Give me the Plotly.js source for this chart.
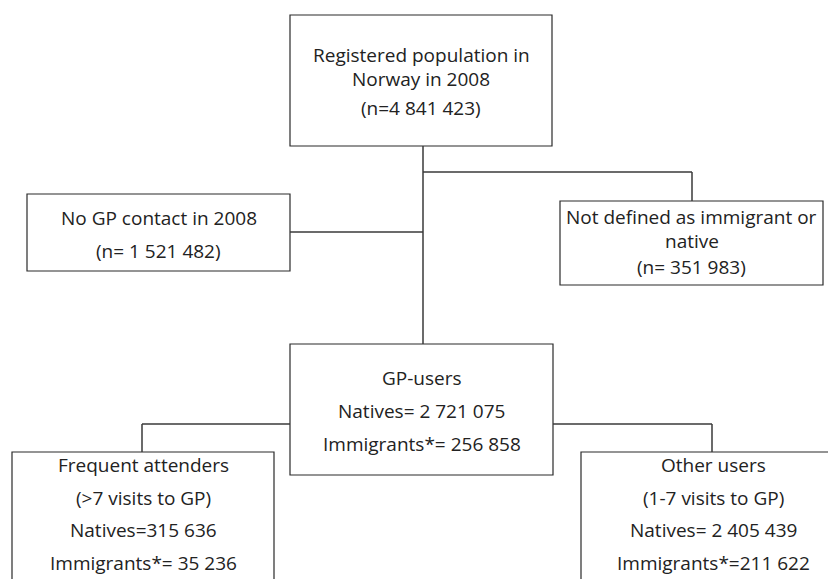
<!DOCTYPE html>
<html>
<head>
<meta charset="utf-8">
<script src="https://cdn.plot.ly/plotly-3.0.1.min.js"></script>
<style>html,body{margin:0;padding:0;background:#fff;}#chart{width:828px;height:579px;}</style>
</head>
<body>
<div id="chart"></div>
<script>
// ---- Data (flowchart nodes and their texts) ----
const nodeIds = ["population", "noContact", "notDefined", "gpUsers", "frequent", "other"];
const nodeLines = [
  ["Registered population in", "Norway in 2008", "(n=4 841 423)"],
  ["No GP contact in 2008", "(n= 1 521 482)"],
  ["Not defined as immigrant or", "native", "(n= 351 983)"],
  ["GP-users", "Natives= 2 721 075", "Immigrants*= 256 858"],
  ["Frequent attenders", "(>7 visits to GP)", "Natives=315 636", "Immigrants*= 35 236"],
  ["Other users", "(1-7 visits to GP)", "Natives= 2 405 439", "Immigrants*=211 622"]
];

// ---- Layout geometry (pixel coordinates of the page) ----
const boxes = {
  population: {x0: 290, x1: 552, y0: 15,  y1: 146, lineY: [55, 79, 108]},
  noContact:  {x0: 27,  x1: 290, y0: 194, y1: 271, lineY: [218, 251]},
  notDefined: {x0: 560, x1: 823, y0: 201, y1: 285, lineY: [217, 241, 267]},
  gpUsers:    {x0: 290, x1: 553, y0: 344, y1: 475, lineY: [378, 411, 444]},
  frequent:   {x0: 12,  x1: 274, y0: 452, y1: 600, lineY: [465, 498, 530, 563]},
  other:      {x0: 581, x1: 845, y0: 452, y1: 600, lineY: [465, 498, 530, 563]}
};
const connectors = [
  [[423, 146], [423, 344]],
  [[290, 232], [423, 232]],
  [[423, 172], [692, 172], [692, 201]],
  [[290, 424], [142, 424], [142, 452]],
  [[553, 424], [712, 424], [712, 452]]
];

const shapes = [];
const annotations = [];
const fontFamily = "'Open Sans', Lato, sans-serif";

nodeIds.forEach((id, i) => {
  const b = boxes[id];
  shapes.push({type: "rect", xref: "x", yref: "y", x0: b.x0, x1: b.x1, y0: b.y0, y1: b.y1,
    line: {color: "#2a2a2a", width: 1.2}, fillcolor: "rgba(0,0,0,0)", layer: "above"});
  nodeLines[i].forEach((t, j) => {
    annotations.push({xref: "x", yref: "y", x: (b.x0 + b.x1) / 2, y: b.lineY[j],
      text: t, showarrow: false, xanchor: "center", yanchor: "middle", borderpad: 0,
      font: {family: fontFamily, size: 19, color: "#222"}});
  });
});
connectors.forEach(pts => {
  for (let k = 0; k < pts.length - 1; k++) {
    shapes.push({type: "line", xref: "x", yref: "y",
      x0: pts[k][0], y0: pts[k][1], x1: pts[k + 1][0], y1: pts[k + 1][1],
      line: {color: "#3a3a3a", width: 1.5}});
  }
});

const layout = {
  width: 828, height: 579,
  margin: {l: 0, r: 0, t: 0, b: 0},
  paper_bgcolor: "#fff", plot_bgcolor: "#fff",
  xaxis: {range: [0, 828], visible: false, fixedrange: true},
  yaxis: {range: [579, 0], visible: false, fixedrange: true},
  showlegend: false,
  shapes: shapes,
  annotations: annotations
};
Plotly.newPlot("chart", [], layout, {staticPlot: true});
</script>
</body>
</html>
